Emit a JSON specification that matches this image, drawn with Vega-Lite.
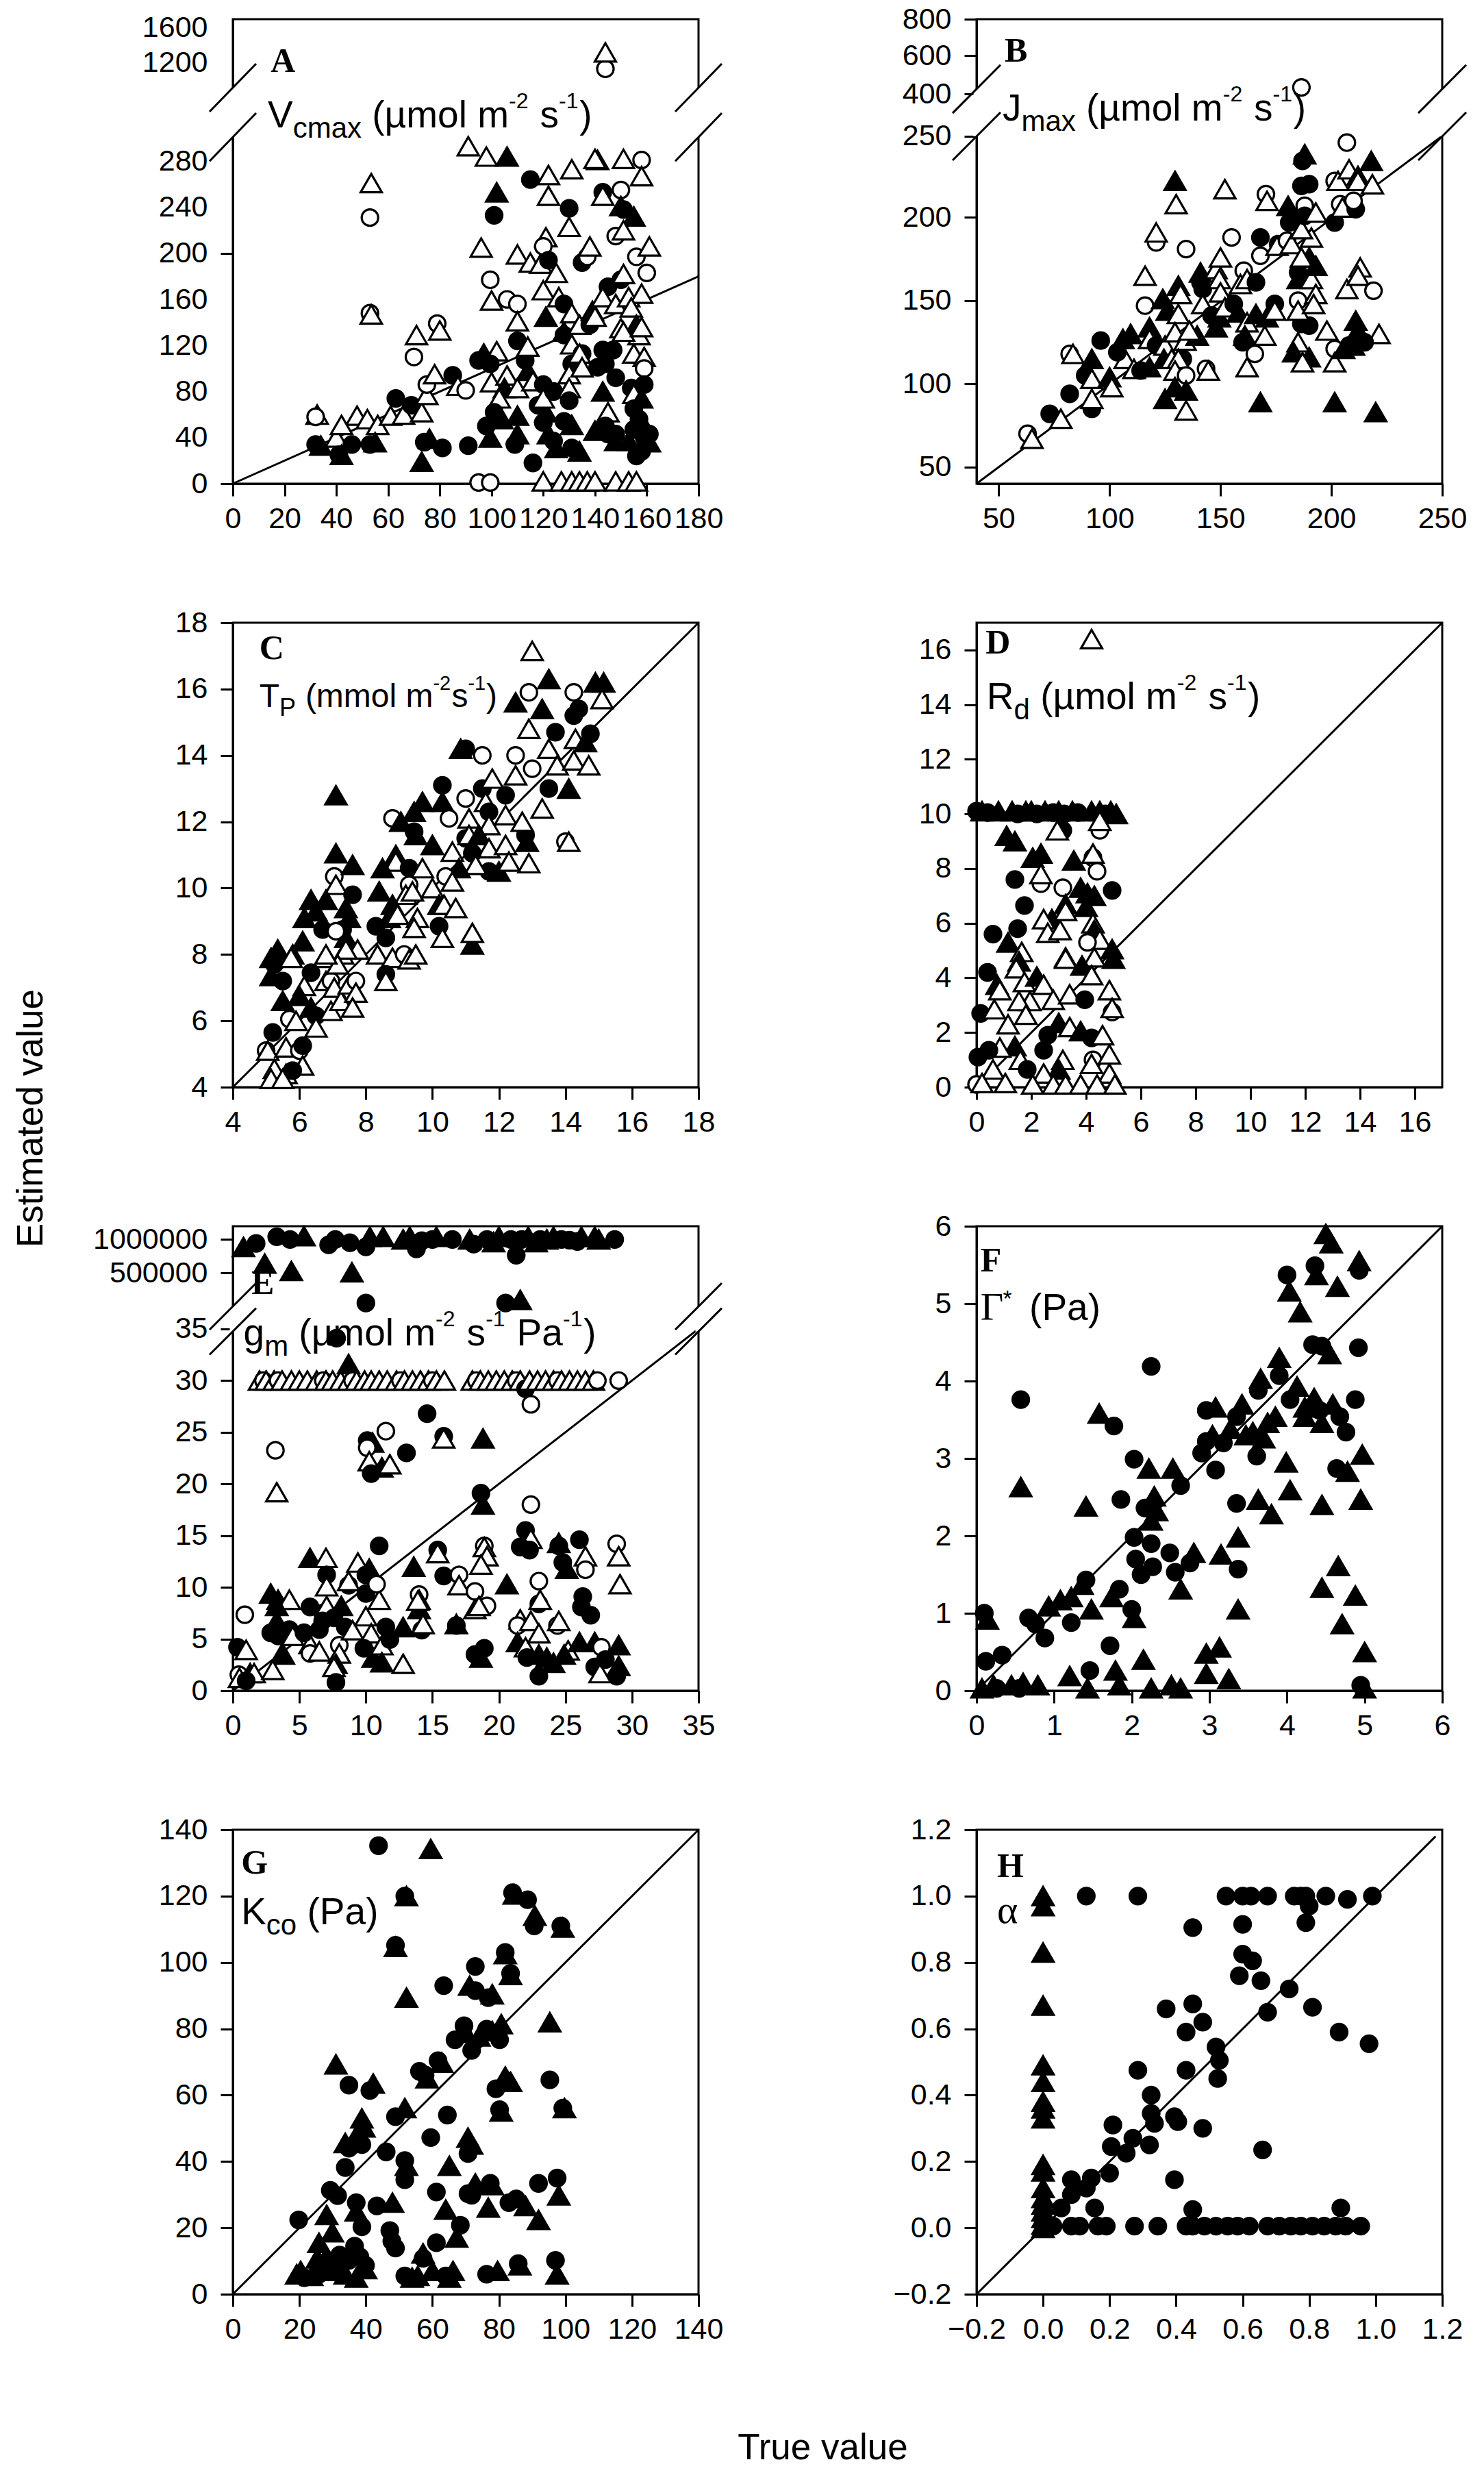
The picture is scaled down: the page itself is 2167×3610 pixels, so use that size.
{
"$schema":"https://vega.github.io/schema/vega-lite/v6.json",
"background":"white",
"padding":{"left":17,"top":5,"right":10,"bottom":10},
"bounds":"flush",
"columns":2,
"spacing":{"row":203,"column":406},
"config":{
 "view":{"stroke":"black","strokeWidth":3},
 "font":"Liberation Sans",
 "axis":{"domainColor":"black","domainWidth":3,"tickColor":"black","tickWidth":3,"tickSize":18,"labelFont":"Liberation Sans","labelFontSize":43,"labelColor":"black","labelPadding":19,"grid":false,"labelFlush":false,"labelOverlap":false,"labelBound":false,"titleFont":"Liberation Sans","titleFontSize":53,"titleFontWeight":"normal","titleColor":"black"},
 "axisX":{"labelPadding":12}
},
"datasets":{
"A":[{"x":32.6,"y":60,"k":"ot"},{"x":32,"y":58,"k":"oc"},{"x":32,"y":34,"k":"fc"},{"x":34,"y":33,"k":"ft"},{"x":40,"y":40,"k":"ot"},{"x":41,"y":25,"k":"fc"},{"x":42,"y":25,"k":"ft"},{"x":48,"y":59,"k":"ot"},{"x":42,"y":51,"k":"ot"},{"x":46,"y":34,"k":"fc"},{"x":52,"y":56,"k":"ot"},{"x":56,"y":51,"k":"ot"},{"x":53,"y":34,"k":"fc"},{"x":55,"y":36,"k":"ft"},{"x":61,"y":59,"k":"ot"},{"x":63,"y":74,"k":"fc"},{"x":66,"y":60,"k":"ot"},{"x":69,"y":68,"k":"fc"},{"x":73,"y":62,"k":"ot"},{"x":73,"y":19,"k":"ft"},{"x":74,"y":36,"k":"fc"},{"x":76,"y":39,"k":"ft"},{"x":81,"y":31,"k":"fc"},{"x":75,"y":77,"k":"ot"},{"x":75,"y":86,"k":"oc"},{"x":78,"y":95,"k":"ot"},{"x":70,"y":110,"k":"oc"},{"x":71,"y":129,"k":"ot"},{"x":79,"y":139,"k":"oc"},{"x":80,"y":133,"k":"ot"},{"x":85,"y":94,"k":"fc"},{"x":87,"y":85,"k":"ot"},{"x":90,"y":81,"k":"oc"},{"x":53.5,"y":261,"k":"ot"},{"x":53,"y":231,"k":"oc"},{"x":53,"y":148,"k":"oc"},{"x":53.5,"y":147,"k":"ot"},{"x":91,"y":293,"k":"ot"},{"x":98,"y":284,"k":"ot"},{"x":106,"y":284,"k":"ft"},{"x":102,"y":253,"k":"ft"},{"x":101,"y":233,"k":"fc"},{"x":96,"y":205,"k":"ot"},{"x":99.5,"y":177,"k":"oc"},{"x":100,"y":159,"k":"ot"},{"x":106,"y":160,"k":"oc"},{"x":110,"y":156,"k":"oc"},{"x":91,"y":33,"k":"fc"},{"x":95,"y":1,"k":"oc"},{"x":99.5,"y":1,"k":"oc"},{"x":95,"y":107,"k":"fc"},{"x":97,"y":113,"k":"ft"},{"x":102,"y":115,"k":"ot"},{"x":99.5,"y":104,"k":"fc"},{"x":100,"y":88,"k":"ot"},{"x":106,"y":94,"k":"ot"},{"x":105,"y":83,"k":"ft"},{"x":103,"y":74,"k":"ot"},{"x":98,"y":50,"k":"fc"},{"x":99.5,"y":40,"k":"ft"},{"x":101,"y":62,"k":"fc"},{"x":104,"y":56,"k":"ft"},{"x":110,"y":43,"k":"ft"},{"x":109,"y":34,"k":"fc"},{"x":110,"y":83,"k":"ot"},{"x":110,"y":199,"k":"ot"},{"x":110,"y":59,"k":"ft"},{"x":110,"y":141,"k":"ot"},{"x":110,"y":124,"k":"fc"},{"x":113,"y":107,"k":"fc"},{"x":114,"y":98,"k":"ft"},{"x":115,"y":192,"k":"ot"},{"x":119,"y":191,"k":"ot"},{"x":114,"y":119,"k":"ot"},{"x":116,"y":89,"k":"ot"},{"x":115,"y":264,"k":"fc"},{"x":116,"y":18,"k":"fc"},{"x":120,"y":2,"k":"ot"},{"x":121,"y":145,"k":"ft"},{"x":122,"y":268,"k":"ot"},{"x":122,"y":250,"k":"ot"},{"x":121,"y":214,"k":"ot"},{"x":120,"y":206,"k":"oc"},{"x":120,"y":168,"k":"ot"},{"x":122,"y":194,"k":"fc"},{"x":125,"y":183,"k":"ot"},{"x":126,"y":162,"k":"ot"},{"x":120,"y":86,"k":"fc"},{"x":121,"y":62,"k":"ft"},{"x":120,"y":53,"k":"fc"},{"x":122,"y":43,"k":"ft"},{"x":124,"y":37,"k":"fc"},{"x":118,"y":68,"k":"fc"},{"x":120,"y":74,"k":"ot"},{"x":124,"y":80,"k":"fc"},{"x":125,"y":31,"k":"ft"},{"x":131,"y":273,"k":"ot"},{"x":130,"y":239,"k":"fc"},{"x":130,"y":223,"k":"ot"},{"x":128,"y":156,"k":"fc"},{"x":131,"y":148,"k":"ot"},{"x":128,"y":132,"k":"ft"},{"x":128,"y":129,"k":"fc"},{"x":131,"y":121,"k":"ot"},{"x":131,"y":104,"k":"fc"},{"x":130,"y":95,"k":"ot"},{"x":130,"y":83,"k":"ot"},{"x":128,"y":54,"k":"fc"},{"x":130,"y":72,"k":"fc"},{"x":131,"y":51,"k":"ft"},{"x":131,"y":31,"k":"fc"},{"x":134,"y":28,"k":"ft"},{"x":127,"y":2,"k":"ot"},{"x":131,"y":2,"k":"ot"},{"x":134,"y":2,"k":"ot"},{"x":134,"y":138,"k":"ot"},{"x":135,"y":113,"k":"fc"},{"x":134,"y":113,"k":"ot"},{"x":135,"y":101,"k":"ot"},{"x":135,"y":192,"k":"fc"},{"x":137,"y":197,"k":"oc"},{"x":138,"y":206,"k":"ot"},{"x":138,"y":138,"k":"fc"},{"x":139,"y":150,"k":"ft"},{"x":140,"y":145,"k":"ot"},{"x":141,"y":281,"k":"ft"},{"x":140,"y":282,"k":"ot"},{"x":143,"y":253,"k":"fc"},{"x":143,"y":250,"k":"ot"},{"x":137,"y":2,"k":"ot"},{"x":140,"y":2,"k":"ot"},{"x":148,"y":2,"k":"ot"},{"x":153,"y":2,"k":"ot"},{"x":156,"y":2,"k":"ot"},{"x":143,"y":116,"k":"fc"},{"x":144,"y":104,"k":"fc"},{"x":143,"y":80,"k":"ft"},{"x":141,"y":101,"k":"fc"},{"x":140,"y":46,"k":"ft"},{"x":145,"y":43,"k":"fc"},{"x":145,"y":62,"k":"ot"},{"x":148,"y":37,"k":"ft"},{"x":144,"y":50,"k":"fc"},{"x":145,"y":171,"k":"fc"},{"x":143,"y":162,"k":"ot"},{"x":148,"y":156,"k":"ot"},{"x":151,"y":282,"k":"ot"},{"x":158,"y":281,"k":"oc"},{"x":158,"y":267,"k":"ot"},{"x":150,"y":255,"k":"oc"},{"x":150,"y":241,"k":"ft"},{"x":151,"y":238,"k":"fc"},{"x":155,"y":232,"k":"ft"},{"x":148,"y":215,"k":"oc"},{"x":151,"y":220,"k":"ot"},{"x":156,"y":197,"k":"oc"},{"x":161,"y":206,"k":"ot"},{"x":160,"y":183,"k":"oc"},{"x":150,"y":177,"k":"fc"},{"x":151,"y":182,"k":"ot"},{"x":153,"y":162,"k":"ot"},{"x":158,"y":165,"k":"ot"},{"x":154,"y":153,"k":"ot"},{"x":156,"y":138,"k":"ft"},{"x":150,"y":135,"k":"ot"},{"x":157,"y":129,"k":"ot"},{"x":151,"y":132,"k":"ot"},{"x":158,"y":136,"k":"ot"},{"x":147,"y":116,"k":"fc"},{"x":155,"y":113,"k":"ot"},{"x":159,"y":110,"k":"ot"},{"x":159,"y":100,"k":"oc"},{"x":148,"y":92,"k":"fc"},{"x":154,"y":83,"k":"fc"},{"x":155,"y":78,"k":"ot"},{"x":159,"y":86,"k":"fc"},{"x":155,"y":65,"k":"fc"},{"x":158,"y":74,"k":"ft"},{"x":157,"y":56,"k":"fc"},{"x":159,"y":50,"k":"ft"},{"x":155,"y":47,"k":"fc"},{"x":153,"y":37,"k":"ft"},{"x":159,"y":40,"k":"fc"},{"x":161,"y":36,"k":"ft"},{"x":158,"y":28,"k":"fc"},{"x":156,"y":24,"k":"fc"},{"x":161,"y":43,"k":"fc"},{"x":148,"y":43,"k":"fc"},{"x":144,"y":1132,"k":"oc"},{"x":144,"y":1320,"k":"ot"}],
"B":[{"x":63,"y":70,"k":"oc"},{"x":65,"y":67,"k":"ot"},{"x":73,"y":82,"k":"fc"},{"x":78,"y":79,"k":"ot"},{"x":82,"y":94,"k":"fc"},{"x":92,"y":85,"k":"fc"},{"x":92,"y":91,"k":"ot"},{"x":82,"y":118,"k":"oc"},{"x":83.5,"y":118,"k":"ot"},{"x":92,"y":115,"k":"ft"},{"x":89,"y":105,"k":"fc"},{"x":92,"y":103,"k":"ot"},{"x":96,"y":126,"k":"fc"},{"x":100,"y":104,"k":"ft"},{"x":101,"y":98,"k":"ot"},{"x":106,"y":127,"k":"ft"},{"x":109.5,"y":130,"k":"ft"},{"x":107,"y":115,"k":"ot"},{"x":111,"y":109,"k":"ot"},{"x":103.5,"y":119,"k":"fc"},{"x":114,"y":108,"k":"fc"},{"x":118,"y":110,"k":"ft"},{"x":116,"y":147,"k":"oc"},{"x":116,"y":165,"k":"ot"},{"x":118,"y":134,"k":"ft"},{"x":118,"y":127,"k":"ot"},{"x":121,"y":123,"k":"fc"},{"x":121,"y":185,"k":"oc"},{"x":121,"y":191,"k":"ot"},{"x":124,"y":151,"k":"ft"},{"x":126,"y":144,"k":"ft"},{"x":125,"y":123,"k":"ot"},{"x":124.5,"y":115,"k":"ft"},{"x":125,"y":91,"k":"ft"},{"x":128,"y":115,"k":"ot"},{"x":129.5,"y":222,"k":"ft"},{"x":130,"y":208,"k":"ot"},{"x":134.5,"y":181,"k":"oc"},{"x":131,"y":159,"k":"ft"},{"x":132,"y":154,"k":"ot"},{"x":131,"y":142,"k":"ot"},{"x":129.5,"y":131,"k":"ot"},{"x":134,"y":126,"k":"ot"},{"x":133,"y":115,"k":"fc"},{"x":131,"y":115,"k":"ot"},{"x":129.5,"y":108,"k":"ot"},{"x":134.5,"y":105,"k":"oc"},{"x":134.5,"y":96,"k":"ft"},{"x":134.5,"y":84,"k":"ot"},{"x":129.5,"y":98,"k":"ft"},{"x":139.5,"y":129,"k":"ft"},{"x":136,"y":132,"k":"ot"},{"x":141,"y":167,"k":"ft"},{"x":141,"y":161,"k":"fc"},{"x":142,"y":157,"k":"fc"},{"x":142,"y":148,"k":"ot"},{"x":143.5,"y":109,"k":"oc"},{"x":144.5,"y":108,"k":"ot"},{"x":148,"y":169,"k":"ot"},{"x":150,"y":176,"k":"ot"},{"x":149.5,"y":163,"k":"ot"},{"x":150,"y":155,"k":"ot"},{"x":146,"y":141,"k":"fc"},{"x":149.5,"y":140,"k":"ft"},{"x":148,"y":134,"k":"ft"},{"x":152,"y":146,"k":"ot"},{"x":152,"y":217,"k":"ot"},{"x":155,"y":188,"k":"oc"},{"x":160.5,"y":168,"k":"oc"},{"x":159,"y":160,"k":"ot"},{"x":162,"y":163,"k":"ot"},{"x":166,"y":161,"k":"fc"},{"x":158,"y":143,"k":"ft"},{"x":156,"y":148,"k":"fc"},{"x":162,"y":137,"k":"ot"},{"x":165.5,"y":118,"k":"oc"},{"x":162,"y":110,"k":"ot"},{"x":161,"y":129,"k":"ft"},{"x":160,"y":125,"k":"fc"},{"x":168,"y":89,"k":"ft"},{"x":166,"y":142,"k":"ft"},{"x":170,"y":129,"k":"ot"},{"x":168,"y":177,"k":"oc"},{"x":168,"y":188,"k":"fc"},{"x":170.5,"y":214,"k":"oc"},{"x":171,"y":210,"k":"ot"},{"x":171,"y":140,"k":"ft"},{"x":174.5,"y":148,"k":"fc"},{"x":174.5,"y":144,"k":"ot"},{"x":176,"y":184,"k":"fc"},{"x":175.5,"y":183,"k":"ot"},{"x":180.5,"y":207,"k":"ft"},{"x":181,"y":197,"k":"fc"},{"x":180,"y":186,"k":"oc"},{"x":182,"y":184,"k":"ot"},{"x":186.5,"y":136,"k":"fc"},{"x":190,"y":135,"k":"fc"},{"x":185,"y":150,"k":"oc"},{"x":185,"y":144,"k":"ot"},{"x":185,"y":125,"k":"ot"},{"x":183,"y":119,"k":"ft"},{"x":190,"y":116,"k":"ft"},{"x":187,"y":113,"k":"ot"},{"x":185,"y":167,"k":"fc"},{"x":185,"y":163,"k":"ft"},{"x":190,"y":176,"k":"ft"},{"x":186.5,"y":176,"k":"ot"},{"x":191,"y":163,"k":"ot"},{"x":191,"y":188,"k":"ot"},{"x":193,"y":154,"k":"ot"},{"x":192,"y":148,"k":"ot"},{"x":188,"y":238,"k":"ft"},{"x":187,"y":234,"k":"fc"},{"x":186.5,"y":219,"k":"fc"},{"x":190,"y":220,"k":"fc"},{"x":188,"y":207,"k":"oc"},{"x":186.5,"y":193,"k":"ot"},{"x":193,"y":171,"k":"ft"},{"x":188,"y":201,"k":"fc"},{"x":193,"y":203,"k":"ot"},{"x":186.5,"y":427,"k":"oc"},{"x":198,"y":132,"k":"ot"},{"x":201.5,"y":121,"k":"oc"},{"x":201.5,"y":113,"k":"ot"},{"x":201.5,"y":89,"k":"ft"},{"x":201.5,"y":197,"k":"fc"},{"x":201.5,"y":222,"k":"oc"},{"x":203,"y":222,"k":"ot"},{"x":207,"y":245,"k":"oc"},{"x":208,"y":229,"k":"ot"},{"x":204,"y":208,"k":"oc"},{"x":205,"y":206,"k":"ot"},{"x":207,"y":157,"k":"ot"},{"x":208,"y":123,"k":"fc"},{"x":205.5,"y":121,"k":"ft"},{"x":211,"y":138,"k":"ft"},{"x":212,"y":132,"k":"ft"},{"x":210,"y":123,"k":"ft"},{"x":212,"y":225,"k":"ft"},{"x":211,"y":205,"k":"fc"},{"x":210,"y":210,"k":"oc"},{"x":212,"y":222,"k":"ot"},{"x":218.5,"y":220,"k":"ot"},{"x":218,"y":234,"k":"ft"},{"x":213,"y":170,"k":"ot"},{"x":212,"y":165,"k":"ot"},{"x":219,"y":156,"k":"oc"},{"x":221.5,"y":130,"k":"ot"},{"x":220,"y":83,"k":"ft"},{"x":213,"y":128,"k":"ft"},{"x":215,"y":125,"k":"fc"}],
"C":[{"x":13.0,"y":17.15,"k":"ot"},{"x":13.5,"y":16.3,"k":"ft"},{"x":12.9,"y":15.9,"k":"oc"},{"x":12.5,"y":15.6,"k":"ft"},{"x":13.3,"y":15.4,"k":"ft"},{"x":14.25,"y":15.9,"k":"oc"},{"x":14.4,"y":15.4,"k":"fc"},{"x":14.9,"y":16.2,"k":"ft"},{"x":15.15,"y":16.2,"k":"ft"},{"x":15.1,"y":15.7,"k":"ot"},{"x":14.25,"y":15.2,"k":"fc"},{"x":12.9,"y":14.8,"k":"ot"},{"x":13.7,"y":14.7,"k":"fc"},{"x":14.3,"y":14.5,"k":"ot"},{"x":14.75,"y":14.65,"k":"fc"},{"x":14.6,"y":14.4,"k":"ft"},{"x":13.5,"y":14.2,"k":"ot"},{"x":12.5,"y":14.0,"k":"oc"},{"x":11.5,"y":14.0,"k":"oc"},{"x":11.0,"y":14.2,"k":"fc"},{"x":10.85,"y":14.2,"k":"ft"},{"x":12.5,"y":13.4,"k":"ot"},{"x":13.0,"y":13.6,"k":"oc"},{"x":13.75,"y":13.7,"k":"ot"},{"x":14.25,"y":13.85,"k":"ot"},{"x":14.7,"y":13.7,"k":"ot"},{"x":14.1,"y":13.0,"k":"ft"},{"x":13.5,"y":13.0,"k":"fc"},{"x":13.3,"y":12.4,"k":"ot"},{"x":7.1,"y":12.8,"k":"ft"},{"x":10.3,"y":13.1,"k":"fc"},{"x":10.3,"y":12.6,"k":"ft"},{"x":9.7,"y":12.6,"k":"ft"},{"x":9.45,"y":12.3,"k":"ft"},{"x":8.8,"y":12.1,"k":"oc"},{"x":10.5,"y":12.1,"k":"oc"},{"x":9.05,"y":12.0,"k":"ft"},{"x":11.0,"y":12.7,"k":"oc"},{"x":11.5,"y":13.0,"k":"fc"},{"x":11.8,"y":13.3,"k":"ot"},{"x":11.6,"y":12.6,"k":"ot"},{"x":12.2,"y":12.8,"k":"fc"},{"x":12.2,"y":12.2,"k":"ot"},{"x":11.7,"y":12.3,"k":"fc"},{"x":11.7,"y":11.9,"k":"ot"},{"x":11.1,"y":12.1,"k":"ot"},{"x":11.0,"y":11.5,"k":"fc"},{"x":11.1,"y":11.6,"k":"ot"},{"x":11.4,"y":11.6,"k":"ft"},{"x":11.7,"y":11.2,"k":"ot"},{"x":12.2,"y":11.3,"k":"ot"},{"x":12.85,"y":11.4,"k":"ft"},{"x":12.8,"y":11.6,"k":"fc"},{"x":12.7,"y":12.0,"k":"ot"},{"x":14.0,"y":11.4,"k":"oc"},{"x":14.1,"y":11.4,"k":"ot"},{"x":12.9,"y":10.75,"k":"ot"},{"x":11.7,"y":10.5,"k":"fc"},{"x":12.0,"y":10.5,"k":"ft"},{"x":12.3,"y":10.8,"k":"ot"},{"x":11.2,"y":11.05,"k":"fc"},{"x":11.3,"y":10.7,"k":"ot"},{"x":9.5,"y":11.6,"k":"ft"},{"x":9.45,"y":11.7,"k":"fc"},{"x":10.0,"y":11.3,"k":"ft"},{"x":10.6,"y":11.1,"k":"ot"},{"x":10.8,"y":10.6,"k":"ft"},{"x":8.9,"y":11.0,"k":"ft"},{"x":8.9,"y":10.8,"k":"ot"},{"x":8.5,"y":10.6,"k":"ft"},{"x":8.4,"y":9.9,"k":"ft"},{"x":9.3,"y":10.6,"k":"fc"},{"x":9.7,"y":10.6,"k":"ot"},{"x":9.3,"y":10.1,"k":"oc"},{"x":9.2,"y":9.8,"k":"ot"},{"x":9.4,"y":9.9,"k":"ot"},{"x":10.4,"y":10.35,"k":"oc"},{"x":10.6,"y":10.2,"k":"ot"},{"x":10.0,"y":10.0,"k":"ot"},{"x":10.2,"y":9.5,"k":"ft"},{"x":10.35,"y":9.5,"k":"ot"},{"x":10.7,"y":9.4,"k":"ot"},{"x":8.8,"y":9.5,"k":"ft"},{"x":8.7,"y":9.1,"k":"ft"},{"x":8.95,"y":9.2,"k":"ot"},{"x":9.55,"y":9.1,"k":"ot"},{"x":9.45,"y":8.8,"k":"ot"},{"x":10.2,"y":8.85,"k":"fc"},{"x":10.3,"y":8.5,"k":"ot"},{"x":11.2,"y":8.3,"k":"ft"},{"x":11.2,"y":8.65,"k":"ot"},{"x":8.3,"y":8.85,"k":"fc"},{"x":8.6,"y":8.5,"k":"fc"},{"x":8.35,"y":8.0,"k":"ot"},{"x":8.8,"y":7.9,"k":"ot"},{"x":9.15,"y":8.0,"k":"oc"},{"x":9.3,"y":7.85,"k":"ot"},{"x":9.5,"y":8.0,"k":"ot"},{"x":8.6,"y":7.4,"k":"fc"},{"x":8.6,"y":7.2,"k":"ot"},{"x":7.1,"y":11.05,"k":"ft"},{"x":7.05,"y":10.35,"k":"oc"},{"x":7.1,"y":10.1,"k":"ot"},{"x":7.6,"y":10.7,"k":"ft"},{"x":7.6,"y":9.8,"k":"fc"},{"x":6.35,"y":9.65,"k":"ft"},{"x":6.8,"y":9.65,"k":"ft"},{"x":6.15,"y":9.1,"k":"ft"},{"x":6.1,"y":8.4,"k":"ft"},{"x":6.5,"y":9.3,"k":"ft"},{"x":7.4,"y":9.4,"k":"ft"},{"x":7.5,"y":9.1,"k":"ft"},{"x":6.7,"y":8.75,"k":"fc"},{"x":6.75,"y":7.9,"k":"ot"},{"x":7.4,"y":8.5,"k":"ft"},{"x":7.3,"y":8.75,"k":"fc"},{"x":7.3,"y":8.0,"k":"ot"},{"x":5.15,"y":7.9,"k":"ft"},{"x":5.35,"y":8.15,"k":"ft"},{"x":5.25,"y":7.7,"k":"fc"},{"x":5.8,"y":8.0,"k":"ft"},{"x":5.75,"y":7.9,"k":"ot"},{"x":5.5,"y":7.2,"k":"fc"},{"x":5.15,"y":7.35,"k":"ft"},{"x":6.15,"y":7.05,"k":"ot"},{"x":6.35,"y":7.45,"k":"fc"},{"x":5.7,"y":6.05,"k":"oc"},{"x":5.5,"y":6.6,"k":"ft"},{"x":6.0,"y":6.75,"k":"ft"},{"x":5.9,"y":6.0,"k":"ot"},{"x":6.5,"y":6.15,"k":"fc"},{"x":6.8,"y":7.2,"k":"ot"},{"x":6.95,"y":7.2,"k":"oc"},{"x":6.95,"y":6.3,"k":"ot"},{"x":7.05,"y":7.0,"k":"ot"},{"x":6.35,"y":6.4,"k":"ft"},{"x":6.5,"y":5.8,"k":"ot"},{"x":7.25,"y":6.6,"k":"ot"},{"x":7.5,"y":7.1,"k":"ot"},{"x":7.7,"y":7.2,"k":"oc"},{"x":7.7,"y":6.85,"k":"ot"},{"x":7.6,"y":6.4,"k":"ot"},{"x":7.75,"y":8.15,"k":"ot"},{"x":7.4,"y":8.15,"k":"ot"},{"x":7.15,"y":7.7,"k":"ot"},{"x":7.1,"y":8.7,"k":"oc"},{"x":6.8,"y":8.0,"k":"ot"},{"x":5.0,"y":5.1,"k":"oc"},{"x":5.2,"y":5.65,"k":"fc"},{"x":5.05,"y":5.1,"k":"ot"},{"x":5.6,"y":5.2,"k":"ot"},{"x":6.0,"y":5.1,"k":"oc"},{"x":6.1,"y":5.25,"k":"fc"},{"x":5.25,"y":4.55,"k":"ot"},{"x":5.6,"y":4.4,"k":"ot"},{"x":6.1,"y":4.65,"k":"ot"},{"x":5.15,"y":4.25,"k":"ot"},{"x":5.5,"y":4.25,"k":"ot"},{"x":5.8,"y":4.5,"k":"fc"}],
"D":[{"x":0,"y":10.1,"k":"fc"},{"x":0.2,"y":10.1,"k":"ft"},{"x":0.4,"y":10.05,"k":"fc"},{"x":0.8,"y":10.1,"k":"ft"},{"x":1.3,"y":10.1,"k":"ft"},{"x":1.5,"y":10.0,"k":"fc"},{"x":1.8,"y":10.1,"k":"ft"},{"x":2.0,"y":10.1,"k":"ft"},{"x":2.2,"y":10.0,"k":"fc"},{"x":2.5,"y":10.1,"k":"ft"},{"x":2.8,"y":10.05,"k":"fc"},{"x":3.0,"y":10.1,"k":"ft"},{"x":3.2,"y":10.0,"k":"fc"},{"x":3.5,"y":10.1,"k":"ft"},{"x":3.7,"y":10.05,"k":"fc"},{"x":4.2,"y":10.1,"k":"ft"},{"x":4.5,"y":10.1,"k":"ft"},{"x":4.7,"y":10.0,"k":"fc"},{"x":4.9,"y":10.1,"k":"ft"},{"x":5.1,"y":10.0,"k":"ft"},{"x":1.1,"y":9.2,"k":"ft"},{"x":1.4,"y":9.0,"k":"ft"},{"x":3.15,"y":9.4,"k":"fc"},{"x":2.95,"y":9.4,"k":"ot"},{"x":4.5,"y":9.4,"k":"oc"},{"x":4.5,"y":9.75,"k":"ot"},{"x":2.05,"y":8.4,"k":"ft"},{"x":2.35,"y":8.55,"k":"ft"},{"x":3.55,"y":8.3,"k":"ft"},{"x":4.25,"y":8.4,"k":"oc"},{"x":4.25,"y":8.55,"k":"ot"},{"x":4.4,"y":7.9,"k":"oc"},{"x":2.35,"y":7.45,"k":"oc"},{"x":2.35,"y":7.8,"k":"ot"},{"x":1.4,"y":7.6,"k":"fc"},{"x":1.75,"y":6.65,"k":"fc"},{"x":0.6,"y":5.6,"k":"fc"},{"x":1.5,"y":5.8,"k":"fc"},{"x":4.95,"y":7.2,"k":"fc"},{"x":3.15,"y":7.3,"k":"oc"},{"x":3.8,"y":7.3,"k":"ft"},{"x":4.05,"y":7.1,"k":"ft"},{"x":4.3,"y":7.0,"k":"ft"},{"x":4.0,"y":6.6,"k":"ft"},{"x":2.75,"y":6.15,"k":"ft"},{"x":2.45,"y":6.15,"k":"ot"},{"x":2.6,"y":5.65,"k":"ot"},{"x":3.05,"y":5.75,"k":"ot"},{"x":3.25,"y":6.7,"k":"ft"},{"x":3.25,"y":6.45,"k":"ot"},{"x":4.25,"y":6.0,"k":"ot"},{"x":4.3,"y":5.75,"k":"ft"},{"x":4.5,"y":5.4,"k":"ot"},{"x":4.95,"y":5.05,"k":"ft"},{"x":5.0,"y":4.7,"k":"ft"},{"x":4.05,"y":5.3,"k":"oc"},{"x":1.15,"y":5.3,"k":"ft"},{"x":1.65,"y":4.95,"k":"ot"},{"x":1.55,"y":4.6,"k":"ft"},{"x":1.45,"y":4.35,"k":"ot"},{"x":3.25,"y":4.75,"k":"ft"},{"x":3.25,"y":4.7,"k":"ot"},{"x":4.3,"y":4.75,"k":"ot"},{"x":0.4,"y":4.2,"k":"fc"},{"x":1.75,"y":3.85,"k":"ot"},{"x":2.2,"y":4.05,"k":"ft"},{"x":2.45,"y":3.75,"k":"ot"},{"x":3.85,"y":4.45,"k":"ft"},{"x":4.2,"y":4.1,"k":"ot"},{"x":4.85,"y":3.55,"k":"ot"},{"x":0.75,"y":3.75,"k":"ft"},{"x":0.85,"y":3.55,"k":"ot"},{"x":2.8,"y":3.2,"k":"ot"},{"x":3.4,"y":3.4,"k":"ot"},{"x":1.95,"y":3.15,"k":"ot"},{"x":1.55,"y":3.15,"k":"ot"},{"x":3.95,"y":3.2,"k":"fc"},{"x":4.95,"y":2.75,"k":"oc"},{"x":4.95,"y":2.9,"k":"ot"},{"x":0.15,"y":2.7,"k":"fc"},{"x":0.65,"y":2.85,"k":"ot"},{"x":1.15,"y":2.3,"k":"ot"},{"x":1.8,"y":2.65,"k":"ot"},{"x":3.0,"y":2.35,"k":"ft"},{"x":3.4,"y":2.2,"k":"ot"},{"x":2.6,"y":1.9,"k":"fc"},{"x":3.8,"y":2.05,"k":"ft"},{"x":4.2,"y":1.8,"k":"fc"},{"x":4.6,"y":1.9,"k":"ot"},{"x":1.4,"y":1.5,"k":"ft"},{"x":0.85,"y":1.45,"k":"ot"},{"x":1.6,"y":1.0,"k":"ot"},{"x":0.05,"y":1.1,"k":"fc"},{"x":0.45,"y":1.35,"k":"fc"},{"x":2.45,"y":1.35,"k":"fc"},{"x":3.15,"y":1.0,"k":"ot"},{"x":4.25,"y":1.0,"k":"oc"},{"x":4.2,"y":0.85,"k":"ot"},{"x":4.85,"y":1.2,"k":"ot"},{"x":1.85,"y":0.65,"k":"fc"},{"x":3.0,"y":0.65,"k":"ft"},{"x":0.6,"y":0.65,"k":"ot"},{"x":2.45,"y":0.5,"k":"ot"},{"x":4.85,"y":0.5,"k":"ot"},{"x":0,"y":0.1,"k":"oc"},{"x":0.2,"y":0.15,"k":"ot"},{"x":1.05,"y":0.15,"k":"ot"},{"x":2.05,"y":0.1,"k":"ot"},{"x":2.8,"y":0.1,"k":"ot"},{"x":3.25,"y":0.1,"k":"ot"},{"x":3.8,"y":0.1,"k":"ot"},{"x":4.4,"y":0.1,"k":"ot"},{"x":5.05,"y":0.1,"k":"ot"},{"x":4.2,"y":16.4,"k":"ot"}],
"E":[{"x":2.0,"y":30,"k":"ot"},{"x":2.3,"y":30,"k":"oc"},{"x":2.5,"y":30,"k":"ot"},{"x":3.1,"y":30,"k":"ot"},{"x":3.4,"y":30,"k":"oc"},{"x":3.7,"y":30,"k":"ot"},{"x":4.4,"y":30,"k":"ot"},{"x":5.0,"y":30,"k":"ot"},{"x":5.6,"y":30,"k":"ot"},{"x":6.3,"y":30,"k":"ot"},{"x":6.8,"y":30,"k":"oc"},{"x":7.0,"y":30,"k":"ot"},{"x":7.5,"y":30,"k":"ot"},{"x":8.1,"y":30,"k":"ot"},{"x":8.7,"y":31.6,"k":"ft"},{"x":8.7,"y":30,"k":"ot"},{"x":9.0,"y":30,"k":"oc"},{"x":9.3,"y":30,"k":"ot"},{"x":9.9,"y":30,"k":"ot"},{"x":10.4,"y":30,"k":"ot"},{"x":11.0,"y":30,"k":"ot"},{"x":11.6,"y":30,"k":"ot"},{"x":12.3,"y":30,"k":"ot"},{"x":12.6,"y":30,"k":"oc"},{"x":12.9,"y":30,"k":"ot"},{"x":13.5,"y":30,"k":"ot"},{"x":14.1,"y":30,"k":"ot"},{"x":14.7,"y":30,"k":"ot"},{"x":15.0,"y":30,"k":"oc"},{"x":15.3,"y":30,"k":"ot"},{"x":15.9,"y":30,"k":"ot"},{"x":18.0,"y":30,"k":"ot"},{"x":18.3,"y":30,"k":"oc"},{"x":18.6,"y":30,"k":"ot"},{"x":19.2,"y":30,"k":"ot"},{"x":19.8,"y":30,"k":"ot"},{"x":20.4,"y":30,"k":"ot"},{"x":21.0,"y":30,"k":"ot"},{"x":21.3,"y":30,"k":"oc"},{"x":21.6,"y":30,"k":"ot"},{"x":22.0,"y":29.2,"k":"fc"},{"x":22.3,"y":30,"k":"ot"},{"x":22.9,"y":30,"k":"ot"},{"x":23.5,"y":30,"k":"ot"},{"x":24.1,"y":30,"k":"ot"},{"x":24.4,"y":30,"k":"oc"},{"x":24.7,"y":30,"k":"ot"},{"x":25.3,"y":30,"k":"ot"},{"x":25.9,"y":30,"k":"ot"},{"x":26.5,"y":30,"k":"ot"},{"x":27.1,"y":30,"k":"ot"},{"x":27.4,"y":30,"k":"oc"},{"x":29.0,"y":30,"k":"oc"},{"x":10.0,"y":37.5,"k":"fc"},{"x":20.5,"y":37.5,"k":"fc"},{"x":21.6,"y":37.8,"k":"ft"},{"x":7.8,"y":34.1,"k":"fc"},{"x":22.4,"y":27.7,"k":"oc"},{"x":14.6,"y":26.8,"k":"fc"},{"x":11.5,"y":25.1,"k":"oc"},{"x":10.1,"y":24.2,"k":"fc"},{"x":10.5,"y":24.0,"k":"ft"},{"x":10.1,"y":23.5,"k":"oc"},{"x":10.25,"y":22.2,"k":"ot"},{"x":10.4,"y":21.0,"k":"fc"},{"x":11.2,"y":21.6,"k":"ft"},{"x":11.8,"y":21.9,"k":"ot"},{"x":13.05,"y":23.0,"k":"fc"},{"x":15.85,"y":24.6,"k":"fc"},{"x":15.85,"y":24.4,"k":"ot"},{"x":18.8,"y":24.4,"k":"ft"},{"x":3.2,"y":23.25,"k":"oc"},{"x":3.3,"y":19.2,"k":"ot"},{"x":18.65,"y":19.1,"k":"fc"},{"x":18.8,"y":18.0,"k":"ft"},{"x":22.4,"y":18.0,"k":"oc"},{"x":22.0,"y":15.5,"k":"fc"},{"x":22.4,"y":14.7,"k":"ot"},{"x":21.6,"y":13.9,"k":"fc"},{"x":22.3,"y":13.6,"k":"fc"},{"x":11.0,"y":14.0,"k":"fc"},{"x":5.8,"y":12.85,"k":"ft"},{"x":7.0,"y":12.85,"k":"ot"},{"x":7.05,"y":11.2,"k":"fc"},{"x":9.4,"y":12.4,"k":"ot"},{"x":10.25,"y":11.8,"k":"ft"},{"x":10.0,"y":11.2,"k":"fc"},{"x":13.6,"y":12.0,"k":"ft"},{"x":15.4,"y":13.6,"k":"fc"},{"x":15.4,"y":13.3,"k":"ot"},{"x":15.85,"y":11.1,"k":"fc"},{"x":17.0,"y":11.2,"k":"oc"},{"x":17.0,"y":10.2,"k":"ot"},{"x":18.9,"y":14.0,"k":"oc"},{"x":18.9,"y":13.9,"k":"ot"},{"x":19.1,"y":13.0,"k":"ot"},{"x":18.65,"y":12.2,"k":"ot"},{"x":20.6,"y":10.3,"k":"ft"},{"x":24.5,"y":14.0,"k":"fc"},{"x":24.5,"y":14.3,"k":"ft"},{"x":24.8,"y":12.4,"k":"fc"},{"x":25.1,"y":11.8,"k":"ft"},{"x":26.05,"y":14.6,"k":"fc"},{"x":26.5,"y":13.0,"k":"ot"},{"x":26.5,"y":11.7,"k":"oc"},{"x":28.85,"y":14.2,"k":"oc"},{"x":29.0,"y":13.0,"k":"ot"},{"x":29.1,"y":10.3,"k":"ot"},{"x":23.0,"y":10.6,"k":"oc"},{"x":23.0,"y":8.4,"k":"fc"},{"x":23.1,"y":8.8,"k":"ot"},{"x":26.3,"y":9.1,"k":"fc"},{"x":26.2,"y":8.1,"k":"fc"},{"x":26.9,"y":7.3,"k":"fc"},{"x":8.7,"y":10.2,"k":"fc"},{"x":8.7,"y":10.6,"k":"ot"},{"x":10.0,"y":9.4,"k":"fc"},{"x":11.0,"y":8.8,"k":"ot"},{"x":10.8,"y":10.3,"k":"oc"},{"x":14.0,"y":9.3,"k":"oc"},{"x":14.0,"y":8.8,"k":"ot"},{"x":14.0,"y":7.9,"k":"ft"},{"x":18.2,"y":9.6,"k":"oc"},{"x":19.1,"y":8.2,"k":"oc"},{"x":18.2,"y":7.9,"k":"ot"},{"x":18.5,"y":8.2,"k":"ot"},{"x":3.4,"y":8.8,"k":"ft"},{"x":4.25,"y":8.8,"k":"ot"},{"x":2.85,"y":5.6,"k":"fc"},{"x":3.3,"y":6.75,"k":"ft"},{"x":3.4,"y":5.3,"k":"fc"},{"x":3.8,"y":3.5,"k":"ot"},{"x":4.25,"y":5.9,"k":"fc"},{"x":4.5,"y":5.3,"k":"ot"},{"x":3.7,"y":3.6,"k":"ft"},{"x":5.8,"y":8.1,"k":"fc"},{"x":5.8,"y":4.5,"k":"ot"},{"x":5.8,"y":3.6,"k":"oc"},{"x":5.35,"y":5.6,"k":"fc"},{"x":6.75,"y":7.5,"k":"fc"},{"x":7.05,"y":8.2,"k":"ot"},{"x":7.05,"y":10.1,"k":"ot"},{"x":6.75,"y":6.75,"k":"fc"},{"x":6.5,"y":5.9,"k":"fc"},{"x":6.5,"y":3.8,"k":"ot"},{"x":8.0,"y":4.4,"k":"oc"},{"x":8.0,"y":3.6,"k":"ot"},{"x":7.75,"y":2.6,"k":"ft"},{"x":7.6,"y":2.3,"k":"ot"},{"x":7.75,"y":0.8,"k":"fc"},{"x":7.6,"y":7.05,"k":"fc"},{"x":8.15,"y":8.2,"k":"ft"},{"x":8.45,"y":6.15,"k":"fc"},{"x":9.0,"y":5.85,"k":"ot"},{"x":10.0,"y":7.2,"k":"ot"},{"x":10.4,"y":5.55,"k":"ot"},{"x":9.85,"y":4.1,"k":"fc"},{"x":10.55,"y":3.2,"k":"ft"},{"x":11.2,"y":4.4,"k":"ot"},{"x":11.5,"y":6.15,"k":"fc"},{"x":11.8,"y":4.95,"k":"fc"},{"x":12.8,"y":6.15,"k":"ft"},{"x":12.8,"y":2.6,"k":"ot"},{"x":11.2,"y":2.75,"k":"ft"},{"x":14.2,"y":5.85,"k":"fc"},{"x":14.3,"y":6.45,"k":"ot"},{"x":13.9,"y":8.7,"k":"ot"},{"x":0.9,"y":7.35,"k":"oc"},{"x":0.35,"y":4.2,"k":"fc"},{"x":1.0,"y":3.95,"k":"ot"},{"x":0.45,"y":1.55,"k":"oc"},{"x":0.5,"y":1.25,"k":"ot"},{"x":1.3,"y":1.7,"k":"ft"},{"x":1.6,"y":1.7,"k":"ot"},{"x":3.0,"y":2.0,"k":"ot"},{"x":1.0,"y":0.95,"k":"fc"},{"x":2.85,"y":9.4,"k":"ft"},{"x":3.3,"y":8.2,"k":"ft"},{"x":16.8,"y":6.3,"k":"fc"},{"x":16.8,"y":6.45,"k":"ft"},{"x":18.2,"y":3.5,"k":"fc"},{"x":18.9,"y":4.1,"k":"fc"},{"x":18.65,"y":3.2,"k":"ft"},{"x":21.6,"y":6.9,"k":"ot"},{"x":21.4,"y":6.3,"k":"oc"},{"x":22.4,"y":6.75,"k":"ot"},{"x":21.4,"y":4.7,"k":"ft"},{"x":22.0,"y":4.2,"k":"ot"},{"x":23.0,"y":5.55,"k":"ot"},{"x":22.1,"y":3.2,"k":"fc"},{"x":23.0,"y":3.5,"k":"ft"},{"x":23.0,"y":1.4,"k":"fc"},{"x":23.6,"y":3.2,"k":"ft"},{"x":24.1,"y":2.7,"k":"ft"},{"x":24.4,"y":6.3,"k":"oc"},{"x":24.5,"y":6.75,"k":"ot"},{"x":25.2,"y":3.9,"k":"ot"},{"x":24.9,"y":3.5,"k":"ft"},{"x":26.05,"y":4.7,"k":"ft"},{"x":27.2,"y":4.7,"k":"ft"},{"x":27.7,"y":4.2,"k":"oc"},{"x":27.2,"y":2.3,"k":"fc"},{"x":27.6,"y":1.7,"k":"ot"},{"x":28.85,"y":1.4,"k":"fc"},{"x":29.0,"y":4.4,"k":"ft"},{"x":29.0,"y":2.4,"k":"ft"},{"x":28.0,"y":3.0,"k":"fc"},{"x":0.8,"y":888000,"k":"ft"},{"x":1.75,"y":940000,"k":"fc"},{"x":3.3,"y":1040000,"k":"fc"},{"x":4.3,"y":1000000,"k":"fc"},{"x":5.35,"y":1050000,"k":"ft"},{"x":7.2,"y":920000,"k":"fc"},{"x":7.7,"y":1000000,"k":"fc"},{"x":8.8,"y":950000,"k":"fc"},{"x":8.95,"y":510000,"k":"ft"},{"x":4.4,"y":530000,"k":"ft"},{"x":2.4,"y":640000,"k":"ft"},{"x":10.3,"y":1040000,"k":"ft"},{"x":10.0,"y":890000,"k":"fc"},{"x":11.3,"y":1040000,"k":"ft"},{"x":12.8,"y":1000000,"k":"ft"},{"x":13.3,"y":1040000,"k":"ft"},{"x":13.8,"y":860000,"k":"fc"},{"x":14.2,"y":980000,"k":"fc"},{"x":15.0,"y":1000000,"k":"fc"},{"x":15.3,"y":1040000,"k":"ft"},{"x":16.5,"y":1000000,"k":"fc"},{"x":17.8,"y":1000000,"k":"ft"},{"x":18.1,"y":930000,"k":"fc"},{"x":19.1,"y":1000000,"k":"fc"},{"x":19.6,"y":960000,"k":"ft"},{"x":20.0,"y":1040000,"k":"ft"},{"x":20.9,"y":1000000,"k":"fc"},{"x":21.3,"y":765000,"k":"fc"},{"x":21.7,"y":1000000,"k":"fc"},{"x":22.2,"y":1040000,"k":"ft"},{"x":22.8,"y":960000,"k":"ft"},{"x":23.1,"y":1000000,"k":"fc"},{"x":23.6,"y":1000000,"k":"ft"},{"x":24.1,"y":1040000,"k":"ft"},{"x":24.7,"y":1000000,"k":"fc"},{"x":25.3,"y":990000,"k":"fc"},{"x":25.9,"y":970000,"k":"fc"},{"x":26.2,"y":1040000,"k":"ft"},{"x":27.2,"y":1040000,"k":"ft"},{"x":27.5,"y":1000000,"k":"ft"},{"x":28.7,"y":1000000,"k":"fc"}],
"F":[{"x":4.5,"y":5.9,"k":"ft"},{"x":4.57,"y":5.78,"k":"ft"},{"x":4.0,"y":5.37,"k":"fc"},{"x":4.03,"y":5.16,"k":"ft"},{"x":4.36,"y":5.49,"k":"fc"},{"x":4.38,"y":5.37,"k":"ft"},{"x":4.93,"y":5.43,"k":"fc"},{"x":4.93,"y":5.55,"k":"ft"},{"x":4.65,"y":5.22,"k":"ft"},{"x":4.17,"y":4.89,"k":"ft"},{"x":4.33,"y":4.47,"k":"fc"},{"x":4.45,"y":4.45,"k":"fc"},{"x":4.55,"y":4.35,"k":"ft"},{"x":4.92,"y":4.43,"k":"fc"},{"x":3.9,"y":4.3,"k":"ft"},{"x":2.25,"y":4.19,"k":"fc"},{"x":0.57,"y":3.76,"k":"fc"},{"x":4.88,"y":3.76,"k":"fc"},{"x":3.66,"y":4.03,"k":"ft"},{"x":3.63,"y":3.88,"k":"fc"},{"x":3.9,"y":4.07,"k":"fc"},{"x":4.13,"y":3.93,"k":"ft"},{"x":4.04,"y":3.76,"k":"fc"},{"x":4.23,"y":3.66,"k":"ft"},{"x":4.35,"y":3.78,"k":"ft"},{"x":4.42,"y":3.62,"k":"fc"},{"x":4.59,"y":3.7,"k":"ft"},{"x":4.68,"y":3.54,"k":"fc"},{"x":4.76,"y":3.34,"k":"fc"},{"x":4.45,"y":3.46,"k":"ft"},{"x":4.23,"y":3.54,"k":"ft"},{"x":1.58,"y":3.58,"k":"ft"},{"x":1.77,"y":3.42,"k":"fc"},{"x":2.96,"y":3.62,"k":"fc"},{"x":3.08,"y":3.66,"k":"ft"},{"x":2.96,"y":3.22,"k":"fc"},{"x":2.9,"y":3.07,"k":"fc"},{"x":3.04,"y":3.3,"k":"ft"},{"x":3.42,"y":3.7,"k":"ft"},{"x":3.35,"y":3.54,"k":"fc"},{"x":3.27,"y":3.38,"k":"ft"},{"x":3.18,"y":3.2,"k":"fc"},{"x":3.47,"y":3.3,"k":"ft"},{"x":3.56,"y":3.34,"k":"ft"},{"x":3.75,"y":3.46,"k":"ft"},{"x":3.85,"y":3.54,"k":"ft"},{"x":3.7,"y":3.26,"k":"ft"},{"x":3.61,"y":3.03,"k":"fc"},{"x":3.08,"y":2.85,"k":"fc"},{"x":2.03,"y":2.99,"k":"fc"},{"x":2.22,"y":2.87,"k":"ft"},{"x":2.53,"y":2.87,"k":"ft"},{"x":2.63,"y":2.65,"k":"fc"},{"x":2.29,"y":2.51,"k":"ft"},{"x":1.86,"y":2.47,"k":"fc"},{"x":2.32,"y":2.32,"k":"ft"},{"x":2.17,"y":2.36,"k":"fc"},{"x":2.25,"y":2.2,"k":"ft"},{"x":3.35,"y":2.42,"k":"fc"},{"x":3.63,"y":2.47,"k":"ft"},{"x":3.8,"y":2.28,"k":"ft"},{"x":4.04,"y":2.59,"k":"ft"},{"x":4.45,"y":2.4,"k":"ft"},{"x":4.95,"y":2.47,"k":"ft"},{"x":3.99,"y":2.95,"k":"ft"},{"x":4.97,"y":3.05,"k":"ft"},{"x":4.64,"y":2.87,"k":"fc"},{"x":4.78,"y":2.83,"k":"ft"},{"x":0.57,"y":2.63,"k":"ft"},{"x":1.41,"y":2.38,"k":"ft"},{"x":2.03,"y":1.98,"k":"fc"},{"x":2.25,"y":1.9,"k":"fc"},{"x":2.49,"y":1.78,"k":"fc"},{"x":2.56,"y":1.53,"k":"fc"},{"x":2.75,"y":1.65,"k":"fc"},{"x":2.8,"y":1.78,"k":"ft"},{"x":2.05,"y":1.7,"k":"fc"},{"x":2.12,"y":1.5,"k":"fc"},{"x":2.27,"y":1.6,"k":"fc"},{"x":3.37,"y":1.98,"k":"ft"},{"x":3.15,"y":1.76,"k":"ft"},{"x":3.37,"y":1.57,"k":"fc"},{"x":3.37,"y":1.05,"k":"ft"},{"x":1.41,"y":1.43,"k":"fc"},{"x":1.36,"y":1.37,"k":"ft"},{"x":1.48,"y":1.05,"k":"ft"},{"x":1.84,"y":1.31,"k":"fc"},{"x":1.74,"y":1.21,"k":"ft"},{"x":2.0,"y":1.05,"k":"fc"},{"x":2.03,"y":0.94,"k":"ft"},{"x":2.63,"y":1.31,"k":"ft"},{"x":4.66,"y":1.61,"k":"ft"},{"x":4.45,"y":1.33,"k":"ft"},{"x":4.88,"y":1.23,"k":"ft"},{"x":4.71,"y":0.86,"k":"ft"},{"x":5.0,"y":0.5,"k":"ft"},{"x":0.1,"y":1.0,"k":"fc"},{"x":0.14,"y":0.92,"k":"ft"},{"x":0.67,"y":0.94,"k":"fc"},{"x":0.88,"y":0.68,"k":"fc"},{"x":1.22,"y":0.88,"k":"fc"},{"x":0.93,"y":1.09,"k":"ft"},{"x":1.08,"y":1.17,"k":"ft"},{"x":1.22,"y":1.21,"k":"ft"},{"x":0.76,"y":0.86,"k":"fc"},{"x":0.12,"y":0.38,"k":"fc"},{"x":0.33,"y":0.46,"k":"fc"},{"x":1.72,"y":0.58,"k":"fc"},{"x":2.15,"y":0.4,"k":"ft"},{"x":2.96,"y":0.48,"k":"ft"},{"x":3.13,"y":0.56,"k":"ft"},{"x":1.46,"y":0.26,"k":"fc"},{"x":1.2,"y":0.19,"k":"ft"},{"x":1.79,"y":0.26,"k":"ft"},{"x":2.96,"y":0.22,"k":"ft"},{"x":3.25,"y":0.15,"k":"ft"},{"x":0.07,"y":0.03,"k":"ft"},{"x":0.22,"y":0.07,"k":"ft"},{"x":0.26,"y":0.03,"k":"fc"},{"x":0.45,"y":0.07,"k":"ft"},{"x":0.55,"y":0.03,"k":"fc"},{"x":0.6,"y":0.1,"k":"ft"},{"x":0.79,"y":0.07,"k":"ft"},{"x":1.43,"y":0.03,"k":"ft"},{"x":1.84,"y":0.07,"k":"ft"},{"x":2.25,"y":0.03,"k":"ft"},{"x":2.51,"y":0.07,"k":"ft"},{"x":2.63,"y":0.03,"k":"ft"},{"x":5.0,"y":0.03,"k":"ft"},{"x":4.95,"y":0.07,"k":"fc"}],
"G":[{"x":43.8,"y":135.2,"k":"fc"},{"x":59.5,"y":134.2,"k":"ft"},{"x":51.7,"y":120,"k":"fc"},{"x":52.2,"y":120,"k":"ft"},{"x":48.9,"y":105.2,"k":"fc"},{"x":48.9,"y":104.7,"k":"ft"},{"x":52.2,"y":89.4,"k":"ft"},{"x":84.1,"y":121,"k":"fc"},{"x":84.6,"y":120.5,"k":"ft"},{"x":88.6,"y":118.9,"k":"fc"},{"x":90.8,"y":114.1,"k":"ft"},{"x":90.6,"y":111,"k":"fc"},{"x":98.6,"y":111,"k":"fc"},{"x":99.2,"y":110.5,"k":"ft"},{"x":72.9,"y":98.8,"k":"fc"},{"x":63.4,"y":93.0,"k":"fc"},{"x":71.2,"y":93,"k":"ft"},{"x":72.9,"y":91.5,"k":"fc"},{"x":76.8,"y":89.4,"k":"fc"},{"x":78,"y":90.4,"k":"ft"},{"x":81.9,"y":103,"k":"fc"},{"x":81.9,"y":102.5,"k":"ft"},{"x":83.5,"y":96.7,"k":"fc"},{"x":83.5,"y":96.2,"k":"ft"},{"x":95.3,"y":82,"k":"ft"},{"x":69.5,"y":80.9,"k":"fc"},{"x":66.8,"y":76.7,"k":"fc"},{"x":70.1,"y":78.8,"k":"ft"},{"x":71.8,"y":73.5,"k":"fc"},{"x":76.3,"y":79.9,"k":"fc"},{"x":74,"y":77.7,"k":"ft"},{"x":80.2,"y":76.7,"k":"fc"},{"x":80.7,"y":81.4,"k":"ft"},{"x":78,"y":79.3,"k":"ft"},{"x":61.7,"y":70.4,"k":"fc"},{"x":62.8,"y":69.8,"k":"ft"},{"x":56.1,"y":67.2,"k":"fc"},{"x":58.4,"y":65.1,"k":"ft"},{"x":57.8,"y":66.1,"k":"fc"},{"x":31,"y":69.3,"k":"ft"},{"x":34.9,"y":63,"k":"fc"},{"x":42.2,"y":63.5,"k":"ft"},{"x":41.2,"y":61.4,"k":"fc"},{"x":79.1,"y":61.9,"k":"fc"},{"x":81.9,"y":65.6,"k":"ft"},{"x":83.5,"y":64,"k":"ft"},{"x":80.2,"y":55.6,"k":"fc"},{"x":80.7,"y":55.1,"k":"ft"},{"x":95.3,"y":64.6,"k":"fc"},{"x":99.2,"y":56.1,"k":"fc"},{"x":99.7,"y":56.1,"k":"ft"},{"x":48.9,"y":53.5,"k":"fc"},{"x":51.7,"y":56.1,"k":"ft"},{"x":64.5,"y":54,"k":"fc"},{"x":38.8,"y":53,"k":"ft"},{"x":39.4,"y":50.3,"k":"ft"},{"x":38.8,"y":45.1,"k":"fc"},{"x":33.8,"y":45.6,"k":"ft"},{"x":34.9,"y":44,"k":"fc"},{"x":37.1,"y":47.7,"k":"ft"},{"x":59.5,"y":47.2,"k":"fc"},{"x":70.7,"y":47.2,"k":"ft"},{"x":71.8,"y":45.1,"k":"ft"},{"x":70.7,"y":42.4,"k":"fc"},{"x":46.1,"y":42.9,"k":"fc"},{"x":51.7,"y":40.3,"k":"fc"},{"x":52.2,"y":38.7,"k":"ft"},{"x":51.7,"y":34.5,"k":"fc"},{"x":33.8,"y":38.2,"k":"fc"},{"x":65.1,"y":38.7,"k":"ft"},{"x":29.3,"y":31.3,"k":"fc"},{"x":31.5,"y":29.7,"k":"fc"},{"x":28.2,"y":23.9,"k":"ft"},{"x":29.9,"y":18.7,"k":"ft"},{"x":19.8,"y":22.4,"k":"fc"},{"x":37.1,"y":27.6,"k":"fc"},{"x":37.1,"y":25,"k":"ft"},{"x":43.3,"y":26.6,"k":"fc"},{"x":48,"y":27.6,"k":"ft"},{"x":38.8,"y":20.3,"k":"fc"},{"x":47.2,"y":19.2,"k":"fc"},{"x":48.9,"y":13.9,"k":"fc"},{"x":47.8,"y":16,"k":"fc"},{"x":61.2,"y":30.8,"k":"fc"},{"x":64,"y":25.5,"k":"ft"},{"x":68.4,"y":20.8,"k":"fc"},{"x":67.3,"y":17.1,"k":"ft"},{"x":70.7,"y":30.3,"k":"fc"},{"x":72.9,"y":33.4,"k":"ft"},{"x":71.8,"y":29.8,"k":"fc"},{"x":78,"y":32.9,"k":"ft"},{"x":77.4,"y":33.4,"k":"fc"},{"x":76.8,"y":26.1,"k":"ft"},{"x":83,"y":27.6,"k":"fc"},{"x":85.2,"y":28.7,"k":"fc"},{"x":88,"y":26.6,"k":"ft"},{"x":91.9,"y":22.4,"k":"ft"},{"x":91.9,"y":33.4,"k":"fc"},{"x":97.5,"y":35,"k":"fc"},{"x":98,"y":29.8,"k":"ft"},{"x":25.9,"y":15.5,"k":"ft"},{"x":25.4,"y":10.8,"k":"ft"},{"x":19.2,"y":6,"k":"ft"},{"x":20.4,"y":7,"k":"ft"},{"x":21.5,"y":5,"k":"fc"},{"x":23.7,"y":5.5,"k":"ft"},{"x":25.9,"y":6,"k":"fc"},{"x":27,"y":8,"k":"ft"},{"x":29.3,"y":9.2,"k":"fc"},{"x":31,"y":7,"k":"ft"},{"x":32.6,"y":8.7,"k":"fc"},{"x":34.9,"y":10.2,"k":"fc"},{"x":33.8,"y":6,"k":"ft"},{"x":36.6,"y":14.5,"k":"fc"},{"x":38.2,"y":11.3,"k":"fc"},{"x":39.9,"y":7.6,"k":"ft"},{"x":39.9,"y":8.7,"k":"fc"},{"x":37.1,"y":5,"k":"ft"},{"x":32.1,"y":11.8,"k":"fc"},{"x":28.2,"y":11.3,"k":"ft"},{"x":51.7,"y":5.5,"k":"fc"},{"x":53.9,"y":5,"k":"ft"},{"x":55.6,"y":5.5,"k":"ft"},{"x":57.2,"y":10.8,"k":"fc"},{"x":57.2,"y":12.3,"k":"ft"},{"x":61.2,"y":15.5,"k":"fc"},{"x":60,"y":7,"k":"ft"},{"x":64,"y":5.5,"k":"fc"},{"x":66.2,"y":7,"k":"ft"},{"x":65.1,"y":5,"k":"ft"},{"x":76.3,"y":6,"k":"fc"},{"x":79.6,"y":7,"k":"ft"},{"x":85.8,"y":9.2,"k":"fc"},{"x":86.3,"y":8.7,"k":"ft"},{"x":97,"y":10.2,"k":"fc"},{"x":97.5,"y":6,"k":"ft"}],
"H":[{"x":0,"y":1.0,"k":"ft"},{"x":0,"y":0.97,"k":"ft"},{"x":0,"y":0.83,"k":"ft"},{"x":0,"y":0.67,"k":"ft"},{"x":0,"y":0.49,"k":"ft"},{"x":0,"y":0.44,"k":"ft"},{"x":0,"y":0.38,"k":"ft"},{"x":0,"y":0.36,"k":"ft"},{"x":0,"y":0.33,"k":"ft"},{"x":0,"y":0.19,"k":"ft"},{"x":0,"y":0.17,"k":"ft"},{"x":0,"y":0.12,"k":"ft"},{"x":0,"y":0.09,"k":"ft"},{"x":0,"y":0.07,"k":"ft"},{"x":0,"y":0.05,"k":"ft"},{"x":0,"y":0.03,"k":"ft"},{"x":0,"y":0.01,"k":"ft"},{"x":0,"y":0.0,"k":"ft"},{"x":0.13,"y":1.0,"k":"fc"},{"x":0.285,"y":1.0,"k":"fc"},{"x":0.55,"y":1.0,"k":"fc"},{"x":0.6,"y":1.0,"k":"fc"},{"x":0.625,"y":1.0,"k":"fc"},{"x":0.675,"y":1.0,"k":"fc"},{"x":0.755,"y":1.0,"k":"fc"},{"x":0.775,"y":1.0,"k":"fc"},{"x":0.79,"y":1.0,"k":"fc"},{"x":0.85,"y":1.0,"k":"fc"},{"x":0.915,"y":0.99,"k":"fc"},{"x":0.99,"y":1.0,"k":"fc"},{"x":0.8,"y":0.97,"k":"fc"},{"x":0.79,"y":0.92,"k":"fc"},{"x":0.6,"y":0.915,"k":"fc"},{"x":0.45,"y":0.905,"k":"fc"},{"x":0.6,"y":0.825,"k":"fc"},{"x":0.63,"y":0.805,"k":"fc"},{"x":0.59,"y":0.76,"k":"fc"},{"x":0.655,"y":0.745,"k":"fc"},{"x":0.74,"y":0.72,"k":"fc"},{"x":0.37,"y":0.66,"k":"fc"},{"x":0.45,"y":0.675,"k":"fc"},{"x":0.48,"y":0.62,"k":"fc"},{"x":0.675,"y":0.65,"k":"fc"},{"x":0.81,"y":0.665,"k":"fc"},{"x":0.43,"y":0.59,"k":"fc"},{"x":0.89,"y":0.59,"k":"fc"},{"x":0.98,"y":0.555,"k":"fc"},{"x":0.52,"y":0.545,"k":"fc"},{"x":0.53,"y":0.505,"k":"fc"},{"x":0.525,"y":0.45,"k":"fc"},{"x":0.285,"y":0.475,"k":"fc"},{"x":0.43,"y":0.475,"k":"fc"},{"x":0.325,"y":0.40,"k":"fc"},{"x":0.325,"y":0.345,"k":"fc"},{"x":0.335,"y":0.315,"k":"fc"},{"x":0.395,"y":0.335,"k":"fc"},{"x":0.405,"y":0.32,"k":"fc"},{"x":0.48,"y":0.30,"k":"fc"},{"x":0.21,"y":0.31,"k":"fc"},{"x":0.205,"y":0.245,"k":"fc"},{"x":0.27,"y":0.27,"k":"fc"},{"x":0.25,"y":0.225,"k":"fc"},{"x":0.32,"y":0.25,"k":"fc"},{"x":0.66,"y":0.235,"k":"fc"},{"x":0.2,"y":0.165,"k":"fc"},{"x":0.145,"y":0.15,"k":"fc"},{"x":0.13,"y":0.12,"k":"fc"},{"x":0.085,"y":0.145,"k":"fc"},{"x":0.085,"y":0.10,"k":"fc"},{"x":0.395,"y":0.145,"k":"fc"},{"x":0.055,"y":0.06,"k":"fc"},{"x":0.155,"y":0.06,"k":"fc"},{"x":0.45,"y":0.055,"k":"fc"},{"x":0.895,"y":0.06,"k":"fc"},{"x":0.01,"y":0.005,"k":"fc"},{"x":0.03,"y":0.005,"k":"fc"},{"x":0.085,"y":0.005,"k":"fc"},{"x":0.11,"y":0.005,"k":"fc"},{"x":0.165,"y":0.005,"k":"fc"},{"x":0.19,"y":0.005,"k":"fc"},{"x":0.275,"y":0.005,"k":"fc"},{"x":0.345,"y":0.005,"k":"fc"},{"x":0.43,"y":0.005,"k":"fc"},{"x":0.45,"y":0.005,"k":"fc"},{"x":0.485,"y":0.005,"k":"fc"},{"x":0.52,"y":0.005,"k":"fc"},{"x":0.555,"y":0.005,"k":"fc"},{"x":0.585,"y":0.005,"k":"fc"},{"x":0.62,"y":0.005,"k":"fc"},{"x":0.675,"y":0.005,"k":"fc"},{"x":0.71,"y":0.005,"k":"fc"},{"x":0.745,"y":0.005,"k":"fc"},{"x":0.775,"y":0.005,"k":"fc"},{"x":0.81,"y":0.005,"k":"fc"},{"x":0.845,"y":0.005,"k":"fc"},{"x":0.88,"y":0.005,"k":"fc"},{"x":0.91,"y":0.005,"k":"fc"},{"x":0.955,"y":0.005,"k":"fc"}]
},
"concat":[
{"width":680,"height":678,"layer":[
 {"data":{"values":[{"x":0,"y":0,"x2":180,"y2":180}]},"mark":{"type":"rule","color":"black","strokeWidth":3},
  "encoding":{"x":{"field":"x","type":"quantitative","scale":{"domain":[0,180],"nice":false,"zero":false},"axis":{"title":null,"values":[0,20,40,60,80,100,120,140,160,180],"format":"d"}},
   "y":{"field":"y","type":"quantitative","scale":{"domain":[0,301,916,1700],"range":[678,172,100,0],"nice":false,"zero":false},"axis":{"title":null,"values":[0,40,80,120,160,200,240,280,1200,1600],"format":"d","tickOpacity":{"condition":{"test":"datum.value == 0 || datum.value == 200","value":1},"value":0}}},
   "x2":{"field":"x2"},"y2":{"field":"y2"}}},
 {"data":{"name":"A"},"mark":{"type":"point","filled":true,"stroke":"black","strokeWidth":3.2,"opacity":1,"size":580},
  "encoding":{"x":{"field":"x","type":"quantitative"},"y":{"field":"y","type":"quantitative"},
   "shape":{"field":"k","type":"nominal","scale":{"domain":["fc","oc","ft","ot"],"range":["circle","circle","M0,-1.113L1.286,1.113L-1.286,1.113Z","M0,-1.113L1.286,1.113L-1.286,1.113Z"]},"legend":null},
   "fill":{"field":"k","type":"nominal","scale":{"domain":["fc","oc","ft","ot"],"range":["black","white","black","white"]},"legend":null}}},
 {"data":{"values":[{"x":14.6,"y":1099,"t":"A"}]},"mark":{"type":"text","align":"left","baseline":"alphabetic","font":"Liberation Serif","fontWeight":"bold","fontSize":50,"color":"black"},"encoding":{"x":{"field":"x","type":"quantitative"},"y":{"field":"y","type":"quantitative"},"text":{"field":"t"}}},
 {"data":{"values":[{"x":13.5,"y":421,"t":"V"},{"x":53.8,"y":421,"t":"(µmol m"},{"x":118.7,"y":421,"t":"s"},{"x":134.0,"y":421,"t":")"}]},"mark":{"type":"text","align":"left","baseline":"alphabetic","font":"Liberation Sans","fontSize":55,"color":"black"},"encoding":{"x":{"field":"x","type":"quantitative"},"y":{"field":"y","type":"quantitative"},"text":{"field":"t"}}},
 {"data":{"values":[{"x":23.2,"y":421,"t":"cmax"}]},"mark":{"type":"text","align":"left","baseline":"alphabetic","font":"Liberation Sans","fontSize":42,"dy":15,"color":"black"},"encoding":{"x":{"field":"x","type":"quantitative"},"y":{"field":"y","type":"quantitative"},"text":{"field":"t"}}},
 {"data":{"values":[{"x":106.7,"y":421,"t":"-2"},{"x":126.0,"y":421,"t":"-1"}]},"mark":{"type":"text","align":"left","baseline":"alphabetic","font":"Liberation Sans","fontSize":32,"dy":-28,"color":"black"},"encoding":{"x":{"field":"x","type":"quantitative"},"y":{"field":"y","type":"quantitative"},"text":{"field":"t"}}},
 {"data":{"values":[{"x":0,"y":301,"x2":0,"y2":916},{"x":180,"y":301,"x2":180,"y2":916}]},"mark":{"type":"rule","color":"white","strokeWidth":9},"encoding":{"x":{"field":"x","type":"quantitative"},"y":{"field":"y","type":"quantitative"},"x2":{"field":"x2"},"y2":{"field":"y2"}}},
 {"data":{"values":[{"x":-9,"y":617,"x2":9,"y2":1190},{"x":-9,"y":280,"x2":9,"y2":600},{"x":171,"y":617,"x2":189,"y2":1190},{"x":171,"y":280,"x2":189,"y2":600}]},"mark":{"type":"rule","color":"black","strokeWidth":3},"encoding":{"x":{"field":"x","type":"quantitative"},"y":{"field":"y","type":"quantitative"},"x2":{"field":"x2"},"y2":{"field":"y2"}}}
]},
{"width":680,"height":678,"layer":[
 {"data":{"values":[{"x":40,"y":40,"x2":250,"y2":250}]},"mark":{"type":"rule","color":"black","strokeWidth":3},
  "encoding":{"x":{"field":"x","type":"quantitative","scale":{"domain":[40,250],"nice":false,"zero":false},"axis":{"title":null,"values":[50,100,150,200,250],"format":"d"}},
   "y":{"field":"y","type":"quantitative","scale":{"domain":[40,248.8,418,800],"range":[678,171,102,0],"nice":false,"zero":false},"axis":{"title":null,"values":[50,100,150,200,250,400,600,800],"format":"d"}},
   "x2":{"field":"x2"},"y2":{"field":"y2"}}},
 {"data":{"name":"B"},"mark":{"type":"point","filled":true,"stroke":"black","strokeWidth":3.2,"opacity":1,"size":580},
  "encoding":{"x":{"field":"x","type":"quantitative"},"y":{"field":"y","type":"quantitative"},
   "shape":{"field":"k","type":"nominal","scale":{"domain":["fc","oc","ft","ot"],"range":["circle","circle","M0,-1.113L1.286,1.113L-1.286,1.113Z","M0,-1.113L1.286,1.113L-1.286,1.113Z"]},"legend":null},
   "fill":{"field":"k","type":"nominal","scale":{"domain":["fc","oc","ft","ot"],"range":["black","white","black","white"]},"legend":null}}},
 {"data":{"values":[{"x":52.7,"y":568,"t":"B"}]},"mark":{"type":"text","align":"left","baseline":"alphabetic","font":"Liberation Serif","fontWeight":"bold","fontSize":50,"color":"black"},"encoding":{"x":{"field":"x","type":"quantitative"},"y":{"field":"y","type":"quantitative"},"text":{"field":"t"}}},
 {"data":{"values":[{"x":51.7,"y":304,"t":"J"},{"x":89.4,"y":304,"t":"(µmol m"},{"x":165.1,"y":304,"t":"s"},{"x":182.9,"y":304,"t":")"}]},"mark":{"type":"text","align":"left","baseline":"alphabetic","font":"Liberation Sans","fontSize":55,"color":"black"},"encoding":{"x":{"field":"x","type":"quantitative"},"y":{"field":"y","type":"quantitative"},"text":{"field":"t"}}},
 {"data":{"values":[{"x":60.2,"y":304,"t":"max"}]},"mark":{"type":"text","align":"left","baseline":"alphabetic","font":"Liberation Sans","fontSize":42,"dy":15,"color":"black"},"encoding":{"x":{"field":"x","type":"quantitative"},"y":{"field":"y","type":"quantitative"},"text":{"field":"t"}}},
 {"data":{"values":[{"x":151.1,"y":304,"t":"-2"},{"x":173.6,"y":304,"t":"-1"}]},"mark":{"type":"text","align":"left","baseline":"alphabetic","font":"Liberation Sans","fontSize":32,"dy":-28,"color":"black"},"encoding":{"x":{"field":"x","type":"quantitative"},"y":{"field":"y","type":"quantitative"},"text":{"field":"t"}}},
 {"data":{"values":[{"x":40,"y":248.8,"x2":40,"y2":418},{"x":250,"y":248.8,"x2":250,"y2":418}]},"mark":{"type":"rule","color":"white","strokeWidth":9},"encoding":{"x":{"field":"x","type":"quantitative"},"y":{"field":"y","type":"quantitative"},"x2":{"field":"x2"},"y2":{"field":"y2"}}},
 {"data":{"values":[{"x":29.2,"y":332,"x2":50.8,"y2":550},{"x":29.2,"y":234.4,"x2":50.8,"y2":334.6},{"x":239.2,"y":332,"x2":260.8,"y2":550},{"x":239.2,"y":234.4,"x2":260.8,"y2":334.6}]},"mark":{"type":"rule","color":"black","strokeWidth":3},"encoding":{"x":{"field":"x","type":"quantitative"},"y":{"field":"y","type":"quantitative"},"x2":{"field":"x2"},"y2":{"field":"y2"}}}
]},
{"width":680,"height":678,"layer":[
 {"data":{"values":[{"x":4,"y":4,"x2":18,"y2":18}]},"mark":{"type":"rule","color":"black","strokeWidth":3},
  "encoding":{"x":{"field":"x","type":"quantitative","scale":{"domain":[4,18],"nice":false,"zero":false},"axis":{"title":null,"values":[4,6,8,10,12,14,16,18],"format":"d"}},
   "y":{"field":"y","type":"quantitative","scale":{"domain":[4,18],"nice":false,"zero":false},"axis":{"title":"Estimated value","titleAngle":270,"titleX":-279,"titleY":723,"titleAlign":"center","titleBaseline":"alphabetic","values":[4,6,8,10,12,14,16,18],"format":"d"}},
   "x2":{"field":"x2"},"y2":{"field":"y2"}}},
 {"data":{"name":"C"},"mark":{"type":"point","filled":true,"stroke":"black","strokeWidth":3.2,"opacity":1,"size":580},
  "encoding":{"x":{"field":"x","type":"quantitative"},"y":{"field":"y","type":"quantitative"},
   "shape":{"field":"k","type":"nominal","scale":{"domain":["fc","oc","ft","ot"],"range":["circle","circle","M0,-1.113L1.286,1.113L-1.286,1.113Z","M0,-1.113L1.286,1.113L-1.286,1.113Z"]},"legend":null},
   "fill":{"field":"k","type":"nominal","scale":{"domain":["fc","oc","ft","ot"],"range":["black","white","black","white"]},"legend":null}}},
 {"data":{"values":[{"x":4.8,"y":16.91,"t":"C"}]},"mark":{"type":"text","align":"left","baseline":"alphabetic","font":"Liberation Serif","fontWeight":"bold","fontSize":50,"color":"black"},"encoding":{"x":{"field":"x","type":"quantitative"},"y":{"field":"y","type":"quantitative"},"text":{"field":"t"}}},
 {"data":{"values":[{"x":4.8,"y":15.45,"t":"T"},{"x":6.18,"y":15.45,"t":"(mmol m"},{"x":10.58,"y":15.45,"t":"s"},{"x":11.62,"y":15.45,"t":")"}]},"mark":{"type":"text","align":"left","baseline":"alphabetic","font":"Liberation Sans","fontSize":48,"color":"black"},"encoding":{"x":{"field":"x","type":"quantitative"},"y":{"field":"y","type":"quantitative"},"text":{"field":"t"}}},
 {"data":{"values":[{"x":5.4,"y":15.45,"t":"P"}]},"mark":{"type":"text","align":"left","baseline":"alphabetic","font":"Liberation Sans","fontSize":36,"dy":13,"color":"black"},"encoding":{"x":{"field":"x","type":"quantitative"},"y":{"field":"y","type":"quantitative"},"text":{"field":"t"}}},
 {"data":{"values":[{"x":10.02,"y":15.45,"t":"-2"},{"x":11.07,"y":15.45,"t":"-1"}]},"mark":{"type":"text","align":"left","baseline":"alphabetic","font":"Liberation Sans","fontSize":29,"dy":-25,"color":"black"},"encoding":{"x":{"field":"x","type":"quantitative"},"y":{"field":"y","type":"quantitative"},"text":{"field":"t"}}}
]},
{"width":680,"height":678,"layer":[
 {"data":{"values":[{"x":0,"y":0,"x2":17,"y2":17}]},"mark":{"type":"rule","color":"black","strokeWidth":3},
  "encoding":{"x":{"field":"x","type":"quantitative","scale":{"domain":[0,17],"nice":false,"zero":false},"axis":{"title":null,"values":[0,2,4,6,8,10,12,14,16],"format":"d"}},
   "y":{"field":"y","type":"quantitative","scale":{"domain":[0,17],"nice":false,"zero":false},"axis":{"title":null,"values":[0,2,4,6,8,10,12,14,16],"format":"d"}},
   "x2":{"field":"x2"},"y2":{"field":"y2"}}},
 {"data":{"name":"D"},"mark":{"type":"point","filled":true,"stroke":"black","strokeWidth":3.2,"opacity":1,"size":580},
  "encoding":{"x":{"field":"x","type":"quantitative"},"y":{"field":"y","type":"quantitative"},
   "shape":{"field":"k","type":"nominal","scale":{"domain":["fc","oc","ft","ot"],"range":["circle","circle","M0,-1.113L1.286,1.113L-1.286,1.113Z","M0,-1.113L1.286,1.113L-1.286,1.113Z"]},"legend":null},
   "fill":{"field":"k","type":"nominal","scale":{"domain":["fc","oc","ft","ot"],"range":["black","white","black","white"]},"legend":null}}},
 {"data":{"values":[{"x":0.33,"y":15.87,"t":"D"}]},"mark":{"type":"text","align":"left","baseline":"alphabetic","font":"Liberation Serif","fontWeight":"bold","fontSize":50,"color":"black"},"encoding":{"x":{"field":"x","type":"quantitative"},"y":{"field":"y","type":"quantitative"},"text":{"field":"t"}}},
 {"data":{"values":[{"x":0.37,"y":13.85,"t":"R"},{"x":2.33,"y":13.85,"t":"(µmol m"},{"x":8.46,"y":13.85,"t":"s"},{"x":9.9,"y":13.85,"t":")"}]},"mark":{"type":"text","align":"left","baseline":"alphabetic","font":"Liberation Sans","fontSize":55,"color":"black"},"encoding":{"x":{"field":"x","type":"quantitative"},"y":{"field":"y","type":"quantitative"},"text":{"field":"t"}}},
 {"data":{"values":[{"x":1.36,"y":13.85,"t":"d"}]},"mark":{"type":"text","align":"left","baseline":"alphabetic","font":"Liberation Sans","fontSize":42,"dy":15,"color":"black"},"encoding":{"x":{"field":"x","type":"quantitative"},"y":{"field":"y","type":"quantitative"},"text":{"field":"t"}}},
 {"data":{"values":[{"x":7.32,"y":13.85,"t":"-2"},{"x":9.15,"y":13.85,"t":"-1"}]},"mark":{"type":"text","align":"left","baseline":"alphabetic","font":"Liberation Sans","fontSize":32,"dy":-28,"color":"black"},"encoding":{"x":{"field":"x","type":"quantitative"},"y":{"field":"y","type":"quantitative"},"text":{"field":"t"}}}
]},
{"width":680,"height":678,"layer":[
 {"data":{"values":[{"x":0,"y":0,"x2":35,"y2":35}]},"mark":{"type":"rule","color":"black","strokeWidth":3},
  "encoding":{"x":{"field":"x","type":"quantitative","scale":{"domain":[0,35],"nice":false,"zero":false},"axis":{"title":null,"values":[0,5,10,15,20,25,30,35],"format":"d"}},
   "y":{"field":"y","type":"quantitative","scale":{"domain":[0,38.5,300000,1196900],"range":[678,97,87.9,0],"nice":false,"zero":false},"axis":{"title":null,"values":[0,5,10,15,20,25,30,35,500000,1000000],"format":"d"}},
   "x2":{"field":"x2"},"y2":{"field":"y2"}}},
 {"data":{"name":"E"},"mark":{"type":"point","filled":true,"stroke":"black","strokeWidth":3.2,"opacity":1,"size":580},
  "encoding":{"x":{"field":"x","type":"quantitative"},"y":{"field":"y","type":"quantitative"},
   "shape":{"field":"k","type":"nominal","scale":{"domain":["fc","oc","ft","ot"],"range":["circle","circle","M0,-1.113L1.286,1.113L-1.286,1.113Z","M0,-1.113L1.286,1.113L-1.286,1.113Z"]},"legend":null},
   "fill":{"field":"k","type":"nominal","scale":{"domain":["fc","oc","ft","ot"],"range":["black","white","black","white"]},"legend":null}}},
 {"data":{"values":[{"x":1.39,"y":38.4,"t":"E"}]},"mark":{"type":"text","align":"left","baseline":"alphabetic","font":"Liberation Serif","fontWeight":"bold","fontSize":50,"color":"black"},"encoding":{"x":{"field":"x","type":"quantitative"},"y":{"field":"y","type":"quantitative"},"text":{"field":"t"}}},
 {"data":{"values":[{"x":0.8,"y":33.4,"t":"g"},{"x":4.96,"y":33.4,"t":"(µmol m"},{"x":17.58,"y":33.4,"t":"s"},{"x":21.34,"y":33.4,"t":"Pa"},{"x":26.36,"y":33.4,"t":")"}]},"mark":{"type":"text","align":"left","baseline":"alphabetic","font":"Liberation Sans","fontSize":55,"color":"black"},"encoding":{"x":{"field":"x","type":"quantitative"},"y":{"field":"y","type":"quantitative"},"text":{"field":"t"}}},
 {"data":{"values":[{"x":2.38,"y":33.4,"t":"m"}]},"mark":{"type":"text","align":"left","baseline":"alphabetic","font":"Liberation Sans","fontSize":42,"dy":15,"color":"black"},"encoding":{"x":{"field":"x","type":"quantitative"},"y":{"field":"y","type":"quantitative"},"text":{"field":"t"}}},
 {"data":{"values":[{"x":15.24,"y":33.4,"t":"-2"},{"x":19.0,"y":33.4,"t":"-1"},{"x":24.81,"y":33.4,"t":"-1"}]},"mark":{"type":"text","align":"left","baseline":"alphabetic","font":"Liberation Sans","fontSize":32,"dy":-28,"color":"black"},"encoding":{"x":{"field":"x","type":"quantitative"},"y":{"field":"y","type":"quantitative"},"text":{"field":"t"}}},
 {"data":{"values":[{"x":0,"y":34.74,"x2":0,"y2":37.18},{"x":35,"y":34.74,"x2":35,"y2":37.18}]},"mark":{"type":"rule","color":"white","strokeWidth":9},"encoding":{"x":{"field":"x","type":"quantitative"},"y":{"field":"y","type":"quantitative"},"x2":{"field":"x2"},"y2":{"field":"y2"}}},
 {"data":{"values":[{"x":-1.75,"y":34.92,"x2":1.75,"y2":350000},{"x":-1.75,"y":32.5,"x2":1.75,"y2":37.0},{"x":33.25,"y":34.92,"x2":36.75,"y2":350000},{"x":33.25,"y":32.5,"x2":36.75,"y2":37.0}]},"mark":{"type":"rule","color":"black","strokeWidth":3},"encoding":{"x":{"field":"x","type":"quantitative"},"y":{"field":"y","type":"quantitative"},"x2":{"field":"x2"},"y2":{"field":"y2"}}}
]},
{"width":680,"height":678,"layer":[
 {"data":{"values":[{"x":0,"y":0,"x2":6,"y2":6}]},"mark":{"type":"rule","color":"black","strokeWidth":3},
  "encoding":{"x":{"field":"x","type":"quantitative","scale":{"domain":[0,6],"nice":false,"zero":false},"axis":{"title":null,"values":[0,1,2,3,4,5,6],"format":"d"}},
   "y":{"field":"y","type":"quantitative","scale":{"domain":[0,6],"nice":false,"zero":false},"axis":{"title":null,"values":[0,1,2,3,4,5,6],"format":"d"}},
   "x2":{"field":"x2"},"y2":{"field":"y2"}}},
 {"data":{"name":"F"},"mark":{"type":"point","filled":true,"stroke":"black","strokeWidth":3.2,"opacity":1,"size":580},
  "encoding":{"x":{"field":"x","type":"quantitative"},"y":{"field":"y","type":"quantitative"},
   "shape":{"field":"k","type":"nominal","scale":{"domain":["fc","oc","ft","ot"],"range":["circle","circle","M0,-1.113L1.286,1.113L-1.286,1.113Z","M0,-1.113L1.286,1.113L-1.286,1.113Z"]},"legend":null},
   "fill":{"field":"k","type":"nominal","scale":{"domain":["fc","oc","ft","ot"],"range":["black","white","black","white"]},"legend":null}}},
 {"data":{"values":[{"x":0.05,"y":5.42,"t":"F"}]},"mark":{"type":"text","align":"left","baseline":"alphabetic","font":"Liberation Serif","fontWeight":"bold","fontSize":50,"color":"black"},"encoding":{"x":{"field":"x","type":"quantitative"},"y":{"field":"y","type":"quantitative"},"text":{"field":"t"}}},
 {"data":{"values":[{"x":0.05,"y":4.79,"t":"Γ"}]},"mark":{"type":"text","align":"left","baseline":"alphabetic","font":"Liberation Serif","fontSize":58,"color":"black"},"encoding":{"x":{"field":"x","type":"quantitative"},"y":{"field":"y","type":"quantitative"},"text":{"field":"t"}}},
 {"data":{"values":[{"x":0.34,"y":4.79,"t":"*"}]},"mark":{"type":"text","align":"left","baseline":"alphabetic","font":"Liberation Sans","fontSize":34,"dy":-20,"color":"black"},"encoding":{"x":{"field":"x","type":"quantitative"},"y":{"field":"y","type":"quantitative"},"text":{"field":"t"}}},
 {"data":{"values":[{"x":0.68,"y":4.79,"t":"(Pa)"}]},"mark":{"type":"text","align":"left","baseline":"alphabetic","font":"Liberation Sans","fontSize":55,"color":"black"},"encoding":{"x":{"field":"x","type":"quantitative"},"y":{"field":"y","type":"quantitative"},"text":{"field":"t"}}}
]},
{"width":680,"height":678,"layer":[
 {"data":{"values":[{"x":0,"y":0,"x2":140,"y2":140}]},"mark":{"type":"rule","color":"black","strokeWidth":3},
  "encoding":{"x":{"field":"x","type":"quantitative","scale":{"domain":[0,140],"nice":false,"zero":false},"axis":{"title":"True value","titleX":861,"titleY":240,"titleAlign":"center","titleBaseline":"alphabetic","values":[0,20,40,60,80,100,120,140],"format":"d"}},
   "y":{"field":"y","type":"quantitative","scale":{"domain":[0,140],"nice":false,"zero":false},"axis":{"title":null,"values":[0,20,40,60,80,100,120,140],"format":"d"}},
   "x2":{"field":"x2"},"y2":{"field":"y2"}}},
 {"data":{"name":"G"},"mark":{"type":"point","filled":true,"stroke":"black","strokeWidth":3.2,"opacity":1,"size":580},
  "encoding":{"x":{"field":"x","type":"quantitative"},"y":{"field":"y","type":"quantitative"},
   "shape":{"field":"k","type":"nominal","scale":{"domain":["fc","oc","ft","ot"],"range":["circle","circle","M0,-1.113L1.286,1.113L-1.286,1.113Z","M0,-1.113L1.286,1.113L-1.286,1.113Z"]},"legend":null},
   "fill":{"field":"k","type":"nominal","scale":{"domain":["fc","oc","ft","ot"],"range":["black","white","black","white"]},"legend":null}}},
 {"data":{"values":[{"x":2.5,"y":126.8,"t":"G"}]},"mark":{"type":"text","align":"left","baseline":"alphabetic","font":"Liberation Serif","fontWeight":"bold","fontSize":50,"color":"black"},"encoding":{"x":{"field":"x","type":"quantitative"},"y":{"field":"y","type":"quantitative"},"text":{"field":"t"}}},
 {"data":{"values":[{"x":2.5,"y":111.5,"t":"K"},{"x":22.35,"y":111.5,"t":"(Pa)"}]},"mark":{"type":"text","align":"left","baseline":"alphabetic","font":"Liberation Sans","fontSize":55,"color":"black"},"encoding":{"x":{"field":"x","type":"quantitative"},"y":{"field":"y","type":"quantitative"},"text":{"field":"t"}}},
 {"data":{"values":[{"x":10.05,"y":111.5,"t":"co"}]},"mark":{"type":"text","align":"left","baseline":"alphabetic","font":"Liberation Sans","fontSize":42,"dy":15,"color":"black"},"encoding":{"x":{"field":"x","type":"quantitative"},"y":{"field":"y","type":"quantitative"},"text":{"field":"t"}}}
]},
{"width":680,"height":678,"layer":[
 {"data":{"values":[{"x":-0.2,"y":-0.2,"x2":1.18,"y2":1.18}]},"mark":{"type":"rule","color":"black","strokeWidth":3},
  "encoding":{"x":{"field":"x","type":"quantitative","scale":{"domain":[-0.2,1.2],"nice":false,"zero":false},"axis":{"title":null,"values":[-0.2,0,0.2,0.4,0.6,0.8,1,1.2],"format":".1f"}},
   "y":{"field":"y","type":"quantitative","scale":{"domain":[-0.2,1.2],"nice":false,"zero":false},"axis":{"title":null,"values":[-0.2,0,0.2,0.4,0.6,0.8,1,1.2],"format":".1f"}},
   "x2":{"field":"x2"},"y2":{"field":"y2"}}},
 {"data":{"name":"H"},"mark":{"type":"point","filled":true,"stroke":"black","strokeWidth":3.2,"opacity":1,"size":580},
  "encoding":{"x":{"field":"x","type":"quantitative"},"y":{"field":"y","type":"quantitative"},
   "shape":{"field":"k","type":"nominal","scale":{"domain":["fc","oc","ft","ot"],"range":["circle","circle","M0,-1.113L1.286,1.113L-1.286,1.113Z","M0,-1.113L1.286,1.113L-1.286,1.113Z"]},"legend":null},
   "fill":{"field":"k","type":"nominal","scale":{"domain":["fc","oc","ft","ot"],"range":["black","white","black","white"]},"legend":null}}},
 {"data":{"values":[{"x":-0.138,"y":1.058,"t":"H"}]},"mark":{"type":"text","align":"left","baseline":"alphabetic","font":"Liberation Serif","fontWeight":"bold","fontSize":50,"color":"black"},"encoding":{"x":{"field":"x","type":"quantitative"},"y":{"field":"y","type":"quantitative"},"text":{"field":"t"}}},
 {"data":{"values":[{"x":-0.138,"y":0.919,"t":"α"}]},"mark":{"type":"text","align":"left","baseline":"alphabetic","font":"Liberation Serif","fontSize":58,"color":"black"},"encoding":{"x":{"field":"x","type":"quantitative"},"y":{"field":"y","type":"quantitative"},"text":{"field":"t"}}}
]}
]
}
